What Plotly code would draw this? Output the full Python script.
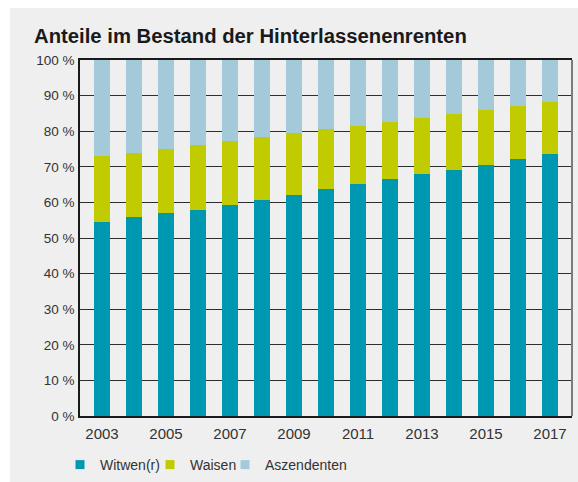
import plotly.graph_objects as go

years = list(range(2003, 2018))
witwen = [54.6, 55.9, 56.9, 57.9, 59.3, 60.7, 62.1, 63.8, 65.2, 66.6, 68.0, 69.2, 70.6, 72.2, 73.6]
waisen = [18.5, 17.9, 18.1, 18.2, 18.0, 17.6, 17.4, 16.9, 16.3, 16.0, 15.8, 15.7, 15.4, 14.9, 14.6]
aszendenten = [26.9, 26.2, 25.0, 23.9, 22.7, 21.7, 20.5, 19.3, 18.5, 17.4, 16.2, 15.1, 14.0, 12.9, 11.8]

series_names = ["Witwen(r)", "Waisen", "Aszendenten"]
series_colors = ["#0098b0", "#c0cb00", "#a3cad8"]

tick_years = [2003, 2005, 2007, 2009, 2011, 2013, 2015, 2017]
y_ticks = [0, 10, 20, 30, 40, 50, 60, 70, 80, 90, 100]
y_tick_labels = [f"{v} %" for v in y_ticks]

W, H = 578, 482
ML, MR, MT, MB = 80, 6, 60, 66
PW, PH = W - ML - MR, H - MT - MB

font = "Liberation Sans, Arial, Helvetica, sans-serif"
txt = "#333333"

legend_ids = ["legend", "legend2", "legend3"]
legend_px = [60, 150, 225]

fig = go.Figure()
for name, vals, col in zip(series_names, [witwen, waisen, aszendenten], series_colors):
    fig.add_trace(go.Bar(x=years, y=vals, name=name, legendgroup=name, showlegend=False,
                         marker=dict(color=col, line=dict(width=0)), width=0.5))
for name, col, lid in zip(series_names, series_colors, legend_ids):
    fig.add_trace(go.Scatter(x=[None], y=[None], mode="markers", name=name, legendgroup=name,
                             legend=lid,
                             marker=dict(symbol="square", size=9, color=col), hoverinfo="skip"))

legend_layouts = {}
for lid, px in zip(legend_ids, legend_px):
    legend_layouts[lid] = dict(orientation="h", x=(px - ML) / PW, xanchor="left",
                               y=(H - 465) / H, yref="container", yanchor="middle",
                               bgcolor="rgba(0,0,0,0)", font=dict(size=14, color=txt),
                               itemwidth=30)

fig.update_layout(
    barmode="stack",
    width=W, height=H,
    margin=dict(l=ML, r=MR, t=MT, b=MB, pad=0, autoexpand=False),
    paper_bgcolor="#efefef",
    plot_bgcolor="#efefef",
    font=dict(family=font, color=txt, size=14),
    title=dict(text="<b>Anteile im Bestand der Hinterlassenenrenten</b>",
               x=34 / W, xanchor="left", xref="container",
               y=1 - 36 / H, yanchor="middle", yref="container",
               font=dict(size=20.3, color="#1a1a1a", family=font)),
    xaxis=dict(range=[2003 - 0.6875, 2017 + 0.6875], tickvals=tick_years,
               ticktext=[str(y) for y in tick_years],
               showgrid=False, zeroline=False, showline=True, linecolor="#1a1a1a",
               linewidth=2, mirror=True, ticks="", ticklabelstandoff=3,
               tickfont=dict(size=15, color=txt)),
    yaxis=dict(range=[0, 100], tickvals=y_ticks, ticktext=y_tick_labels,
               showgrid=True, gridcolor="#2e2e2e", gridwidth=1.2, zeroline=False,
               showline=True, linecolor="#1a1a1a", linewidth=1.5, ticks="",
               ticklabelstandoff=1, tickfont=dict(size=13.5, color=txt)),
    bargap=0.5,
    shapes=[
        dict(type="rect", xref="paper", yref="paper", x0=-ML / PW, x1=-(ML - 10) / PW,
             y0=-MB / PH, y1=1 + MT / PH, fillcolor="white", line=dict(width=0), layer="below"),
        dict(type="rect", xref="paper", yref="paper", x0=-ML / PW, x1=1 + MR / PW,
             y0=1 + (MT - 8) / PH, y1=1 + MT / PH, fillcolor="white", line=dict(width=0), layer="below"),
        dict(type="line", xref="paper", yref="paper", x0=1, x1=1, y0=0, y1=1,
             line=dict(color="#7a7a7a", width=2)),
    ],
    **legend_layouts,
)

fig.write_html("out.html", config={"displayModeBar": False},
               post_script="document.body.style.margin='0';document.body.style.padding='0';"
                           "document.body.style.overflow='hidden';"
                           "document.body.style.background='#efefef';"
                           "document.documentElement.style.background='#efefef';")
